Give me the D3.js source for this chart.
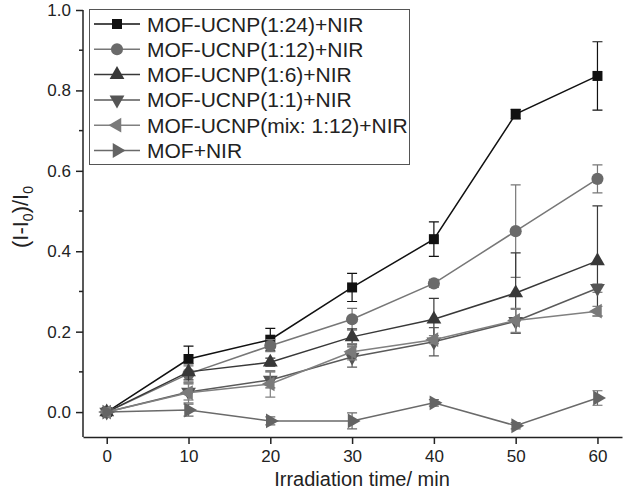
<!DOCTYPE html>
<html lang="en">
<head>
<meta charset="UTF-8">
<script src="https://d3js.org/d3.v7.min.js"></script>
<style>
  body { margin: 0; background: #fff; }
  svg { display: block; font-family: 'Liberation Sans', Arial, sans-serif; }
  .axis path, .axis line { stroke: #222; stroke-width: 1.5; }
  .axis text { fill: #222; }
</style>
</head>
<body>
<svg id="chart" width="625" height="490"></svg>
<script>
// Data
const times = [0, 10, 20, 30, 40, 50, 60];
const seriesNames = [
  "MOF-UCNP(1:24)+NIR",
  "MOF-UCNP(1:12)+NIR",
  "MOF-UCNP(1:6)+NIR",
  "MOF-UCNP(1:1)+NIR",
  "MOF-UCNP(mix: 1:12)+NIR",
  "MOF+NIR"
];
const v124 = [0, 0.132, 0.18, 0.31, 0.43, 0.741, 0.836];
const e124 = [0, 0.032, 0.028, 0.035, 0.043, 0.012, 0.085];
const v112 = [0, 0.095, 0.165, 0.231, 0.32, 0.45, 0.58];
const e112 = [0, 0.02, 0.015, 0.027, 0.01, 0.115, 0.035];
const v16 = [0, 0.10, 0.124, 0.187, 0.231, 0.296, 0.376];
const e16 = [0, 0.02, 0.01, 0.02, 0.052, 0.1, 0.137];
const v11 = [0, 0.05, 0.08, 0.137, 0.175, 0.226, 0.308];
const e11 = [0, 0.02, 0.02, 0.025, 0.035, 0.03, 0.01];
const vmix = [0, 0.048, 0.07, 0.15, 0.18, 0.228, 0.251];
const emix = [0, 0.025, 0.033, 0.02, 0.01, 0.03, 0.012];
const vmof = [0, 0.005, -0.022, -0.022, 0.023, -0.034, 0.035];
const emof = [0, 0.015, 0.01, 0.02, 0.008, 0.008, 0.018];
const xTicks = [0, 10, 20, 30, 40, 50, 60];
const yTicks = [0.0, 0.2, 0.4, 0.6, 0.8, 1.0];

const values = [v124, v112, v16, v11, vmix, vmof];
const errors = [e124, e112, e16, e11, emix, emof];
const colors = ["#111111", "#6a6a6a", "#383838", "#555555", "#7a7a7a", "#646464"];
const lineColors = ["#111111", "#777777", "#383838", "#5a5a5a", "#808080", "#6a6a6a"];
const shapes = [
  { type: d3.symbolSquare, size: 100, rot: 0 },
  { type: d3.symbolCircle, size: 115, rot: 0 },
  { type: d3.symbolTriangle, size: 95, rot: 0 },
  { type: d3.symbolTriangle, size: 95, rot: 180 },
  { type: d3.symbolTriangle, size: 95, rot: -90 },
  { type: d3.symbolTriangle, size: 95, rot: 90 }
];

const svg = d3.select("#chart");

const x = d3.scaleLinear().domain([-2.9, 63]).range([83, 622]);
const y = d3.scaleLinear().domain([-0.062, 1.0]).range([437, 10]);

// axes
const xAxis = svg.append("g").attr("class", "axis")
  .attr("transform", "translate(0,437)")
  .call(d3.axisBottom(x).tickValues(xTicks).tickSize(7).tickSizeOuter(0).tickPadding(6));
xAxis.selectAll("text").style("font-size", "17px");

const yAxis = svg.append("g").attr("class", "axis")
  .attr("transform", "translate(83,0)")
  .call(d3.axisLeft(y).tickValues(yTicks).tickFormat(d3.format(".1f")).tickSize(7).tickSizeOuter(0).tickPadding(5));
yAxis.selectAll("text").style("font-size", "17px");
yAxis.select(".domain").attr("d", `M0,${y(-0.062)}V${y(1.0)}`);

// minor y ticks
svg.append("g").selectAll("line")
  .data([0.1, 0.3, 0.5, 0.7, 0.9])
  .join("line")
  .attr("x1", 79).attr("x2", 83)
  .attr("y1", d => y(d)).attr("y2", d => y(d))
  .attr("stroke", "#222").attr("stroke-width", 1.5);

// axis titles
svg.append("text")
  .attr("x", 362).attr("y", 486)
  .attr("text-anchor", "middle")
  .style("font-size", "20px").attr("fill", "#222")
  .text("Irradiation time/ min");

const yt = svg.append("text")
  .attr("transform", "translate(28,217) rotate(-90)")
  .attr("text-anchor", "middle")
  .style("font-size", "22px").attr("fill", "#222");
yt.append("tspan").text("(I-I");
yt.append("tspan").attr("dy", 5).style("font-size", "14px").text("0");
yt.append("tspan").attr("dy", -5).text(")/I");
yt.append("tspan").attr("dy", 5).style("font-size", "14px").text("0");

const line = d3.line().x((d, i) => x(times[i])).y(d => y(d));

values.forEach((vals, s) => {
  const g = svg.append("g");
  // error bars
  vals.forEach((v, i) => {
    const e = errors[s][i];
    if (!e) return;
    const cx = x(times[i]);
    g.append("path")
      .attr("d", `M${cx},${y(v + e)}V${y(v - e)}M${cx - 5},${y(v + e)}H${cx + 5}M${cx - 5},${y(v - e)}H${cx + 5}`)
      .attr("stroke", lineColors[s]).attr("stroke-width", 1.2).attr("fill", "none");
  });
  g.append("path")
    .attr("d", line(vals))
    .attr("fill", "none")
    .attr("stroke", lineColors[s])
    .attr("stroke-width", 1.5);
  const sym = d3.symbol().type(shapes[s].type).size(shapes[s].size);
  g.selectAll("path.pt")
    .data(vals)
    .join("path")
    .attr("class", "pt")
    .attr("d", sym())
    .attr("transform", (d, i) => `translate(${x(times[i])},${y(d)}) rotate(${shapes[s].rot})`)
    .attr("fill", colors[s]);
});

// legend
const lg = svg.append("g");
lg.append("rect")
  .attr("x", 89.5).attr("y", 9.5)
  .attr("width", 320).attr("height", 155)
  .attr("fill", "#fff").attr("stroke", "#555").attr("stroke-width", 1);
seriesNames.forEach((name, s) => {
  const cy = 24 + s * 25.3;
  lg.append("line")
    .attr("x1", 94).attr("x2", 140).attr("y1", cy).attr("y2", cy)
    .attr("stroke", lineColors[s]).attr("stroke-width", 1.5);
  lg.append("path")
    .attr("d", d3.symbol().type(shapes[s].type).size(shapes[s].size)())
    .attr("transform", `translate(117,${cy}) rotate(${shapes[s].rot})`)
    .attr("fill", colors[s]);
  lg.append("text")
    .attr("x", 147).attr("y", cy + 7.5)
    .style("font-size", "21px").attr("fill", "#222")
    .text(name);
});
</script>
</body>
</html>
